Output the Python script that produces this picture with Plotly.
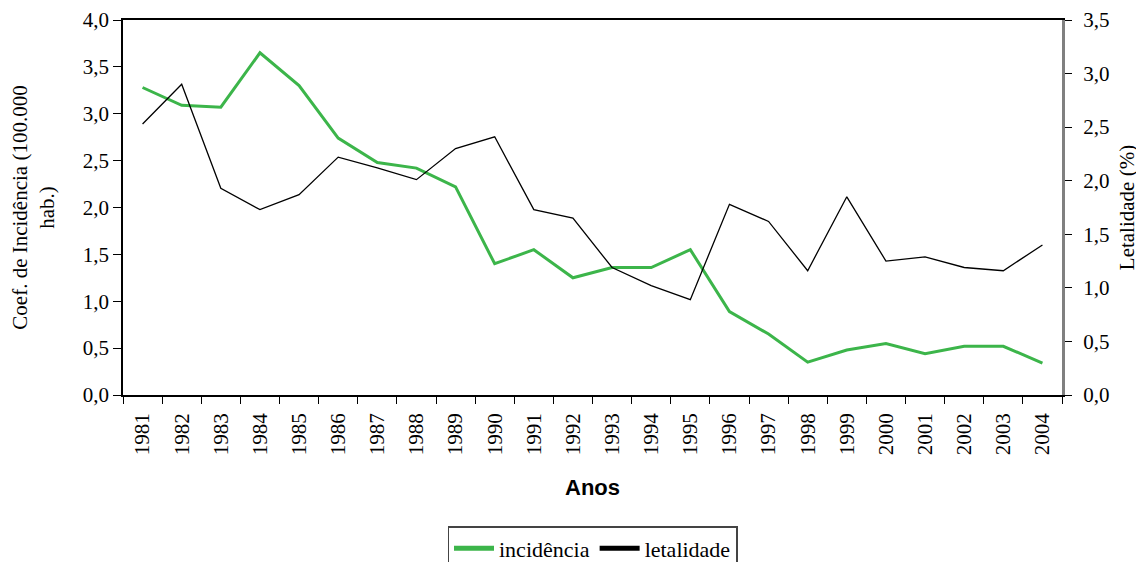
import plotly.graph_objects as go

anos = [str(y) for y in range(1981, 2005)]
incidencia = [3.28, 3.09, 3.07, 3.65, 3.30, 2.74, 2.48, 2.42, 2.22, 1.40, 1.55, 1.25,
              1.36, 1.36, 1.55, 0.89, 0.65, 0.35, 0.48, 0.55, 0.44, 0.52, 0.52, 0.34]
letalidade = [2.53, 2.90, 1.93, 1.73, 1.87, 2.22, 2.12, 2.01, 2.30, 2.41, 1.73, 1.65,
              1.19, 1.02, 0.89, 1.78, 1.62, 1.16, 1.85, 1.25, 1.29, 1.19, 1.16, 1.40]
left_ticks = [0, 0.5, 1.0, 1.5, 2.0, 2.5, 3.0, 3.5, 4.0]
right_ticks = [0, 0.5, 1.0, 1.5, 2.0, 2.5, 3.0, 3.5]

serif = "Liberation Serif"
fs = 21
green = "#3cb54a"
fig = go.Figure()
fig.add_trace(go.Scatter(x=anos, y=incidencia, name="incidência", mode="lines",
                         line=dict(color=green, width=3), showlegend=False))
fig.add_trace(go.Scatter(x=anos, y=letalidade, name="letalidade", mode="lines",
                         line=dict(color="black", width=1.3), yaxis="y2", showlegend=False))
# legend entries (thicker sample lines, as in the original legend)
fig.add_trace(go.Scatter(x=[None], y=[None], name="incidência", mode="lines",
                         line=dict(color=green, width=5)))
fig.add_trace(go.Scatter(x=[None], y=[None], name="letalidade", mode="lines",
                         line=dict(color="black", width=5)))

xr = [-0.5, len(anos) - 0.5]
fig.update_layout(
    width=1144, height=562,
    margin=dict(l=115, r=90, t=12, b=175, autoexpand=False),
    paper_bgcolor="white", plot_bgcolor="white",
    separators=",.",
    font=dict(family=serif, size=fs, color="black"),
    showlegend=True,
    legend=dict(orientation="h", x=0.5, xanchor="center", xref="paper",
                y=1 - 518 / 562, yanchor="top", yref="container",
                bordercolor="#444", borderwidth=1.5, font=dict(size=22, family=serif),
                itemwidth=40, tracegroupgap=0),
    xaxis=dict(type="category", categoryarray=anos, range=xr, tickson="boundaries",
               ticks="outside", ticklen=7, tickcolor="black", showline=True,
               linecolor="black", linewidth=1.5, mirror=True, showgrid=False,
               tickangle=-90, tickfont=dict(size=fs, family=serif), automargin=False,
               ticklabelstandoff=8,
               title=dict(text="<b>Anos</b>", font=dict(family="Liberation Sans", size=22),
                          standoff=25)),
    xaxis2=dict(type="category", categoryarray=anos, range=xr, tickson="boundaries",
                overlaying="x", side="bottom", anchor="y", ticks="inside", ticklen=7,
                tickcolor="black", showticklabels=False, showline=False, showgrid=False),
    yaxis=dict(range=[0, 4], tickvals=left_ticks, tickformat=".1f", ticks="outside",
               ticklen=8, tickcolor="black", showline=True, linecolor="black",
               linewidth=1.5, showgrid=False, zeroline=False, automargin=False,
               tickfont=dict(size=fs, family=serif),
               title=dict(text="Coef. de Incidência (100.000<br>hab.)",
                          font=dict(size=fs, family=serif), standoff=22)),
    yaxis2=dict(range=[0, 3.5], tickvals=right_ticks, tickformat=".1f", overlaying="y",
                side="right", ticks="outside", ticklen=7, tickcolor="black",
                showline=True, linecolor="#808080", linewidth=3, showgrid=False,
                zeroline=False, automargin=False, tickfont=dict(size=fs, family=serif),
                ticklabelstandoff=7,
                title=dict(text="Letalidade (%)", font=dict(size=fs, family=serif),
                           standoff=11)),
    yaxis3=dict(range=[0, 4], tickvals=left_ticks, overlaying="y", side="left",
                anchor="x", ticks="inside", ticklen=5, tickcolor="black",
                showticklabels=False, showline=False, showgrid=False, zeroline=False),
    yaxis4=dict(range=[0, 3.5], tickvals=right_ticks, overlaying="y", side="right",
                anchor="x", ticks="inside", ticklen=7, tickcolor="black",
                showticklabels=False, showline=False, showgrid=False, zeroline=False),
)
fig.write_html("out.html")
